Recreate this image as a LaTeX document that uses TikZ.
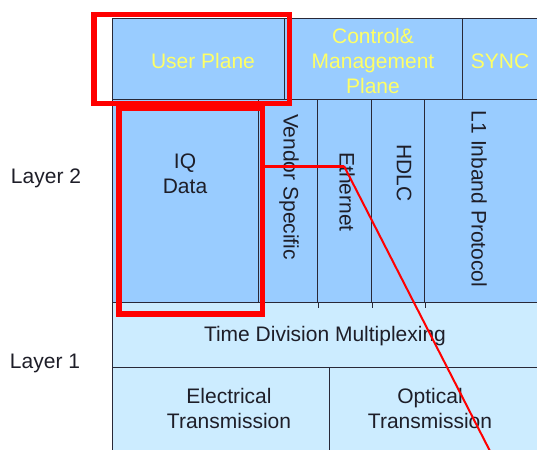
\documentclass[tikz,border=0pt]{standalone}
\usepackage{fontspec}
\setmainfont{Liberation Sans}
\definecolor{topblue}{RGB}{153,204,255}
\definecolor{lowblue}{RGB}{204,236,255}
\definecolor{yeltxt}{RGB}{255,255,102}
\definecolor{darktxt}{RGB}{30,30,40}
\definecolor{edge}{RGB}{40,40,55}
\definecolor{hired}{RGB}{255,0,0}
\tikzset{
  cell/.style={draw=edge, line width=1.4pt, rectangle, inner sep=0pt, anchor=north west},
  ylab/.style={text=yeltxt, font=\fontsize{21}{25}\selectfont, align=center, inner sep=0pt},
  dlab/.style={text=darktxt, font=\fontsize{21}{25}\selectfont, align=center, inner sep=0pt},
  vlab/.style={dlab, rotate=-90},
  hibox/.style={draw=hired, line width=5.5pt, rectangle, inner sep=0pt},
  hiline/.style={draw=hired}
}
\begin{document}
\begin{tikzpicture}[x=1pt,y=-1pt]
\useasboundingbox (0,0) rectangle (537,449);
\clip (0,0) rectangle (537,449);
\fill[white] (0,0) rectangle (537,449);
% top row
\node[cell, fill=topblue, minimum width=172pt, minimum height=81pt] (up) at (112,18) {};
\node[cell, fill=topblue, minimum width=178pt, minimum height=81pt] (cm) at (284,18) {};
\node[cell, fill=topblue, minimum width=80pt, minimum height=81pt] (sync) at (462,18) {};
% layer 2 row
\node[cell, fill=topblue, minimum width=146pt, minimum height=203pt] (iq) at (112,99) {};
\node[cell, fill=topblue, minimum width=59pt, minimum height=203pt] (vs) at (258,99) {};
\node[cell, fill=topblue, minimum width=54pt, minimum height=203pt] (eth) at (317,99) {};
\node[cell, fill=topblue, minimum width=53pt, minimum height=203pt] (hdlc) at (371,99) {};
\node[cell, fill=topblue, minimum width=118pt, minimum height=203pt] (lone) at (424,99) {};
% layer 1 rows
\node[cell, fill=lowblue, minimum width=430pt, minimum height=65pt] (tdm) at (112,302) {};
\node[cell, fill=lowblue, minimum width=217pt, minimum height=90pt] (el) at (112,367) {};
\node[cell, fill=lowblue, minimum width=213pt, minimum height=90pt] (opt) at (329,367) {};
% small ticks below layer-2 dividers
\draw[edge, line width=1.4pt] (vs.south east) -- ++(0,5);
\draw[edge, line width=1.4pt] (eth.south east) -- ++(0,5);
\draw[edge, line width=1.4pt] (hdlc.south east) -- ++(0,5);
% labels
\node[ylab] (tup) at (203,61) {User Plane};
\node[ylab] (tcm) at (373,61) {Control\&\\Management\\Plane};
\node[ylab] (tsync) at (500,61) {SYNC};
\node[dlab] (tiq) at (185,174) {IQ\\Data};
\node[vlab] (tvs) at (289,187) {Vendor Specific};
\node[vlab] (teth) at (347,192) {Ethernet};
\node[vlab] (thdlc) at (404,173) {HDLC};
\node[vlab] (tlone) at (479,199) {L1 Inband Protocol};
\node[dlab] (ttdm) at (325,336) {Time Division Multiplexing};
\node[dlab] (tel) at (229,408) {Electrical\\Transmission};
\node[dlab] (topt) at (430,408) {Optical\\Transmission};
\node[dlab] (l2) at (46,178) {Layer 2};
\node[dlab] (l1) at (45,363) {Layer 1};
% highlight boxes
\node[hibox, minimum width=195.5pt, minimum height=89pt, anchor=north west] (hup) at (91,12) {};
\node[hibox, minimum width=143.5pt, minimum height=205.5pt, anchor=north west] (hiq) at (116,105.5) {};
% pointer line
\coordinate (bend) at (344,166);
\coordinate (lend) at (492,455);
\draw[hiline, line width=3pt] (hiq.east |- bend) -- (bend);
\draw[hiline, line width=2pt] (bend) -- (lend);
\end{tikzpicture}
\end{document}
